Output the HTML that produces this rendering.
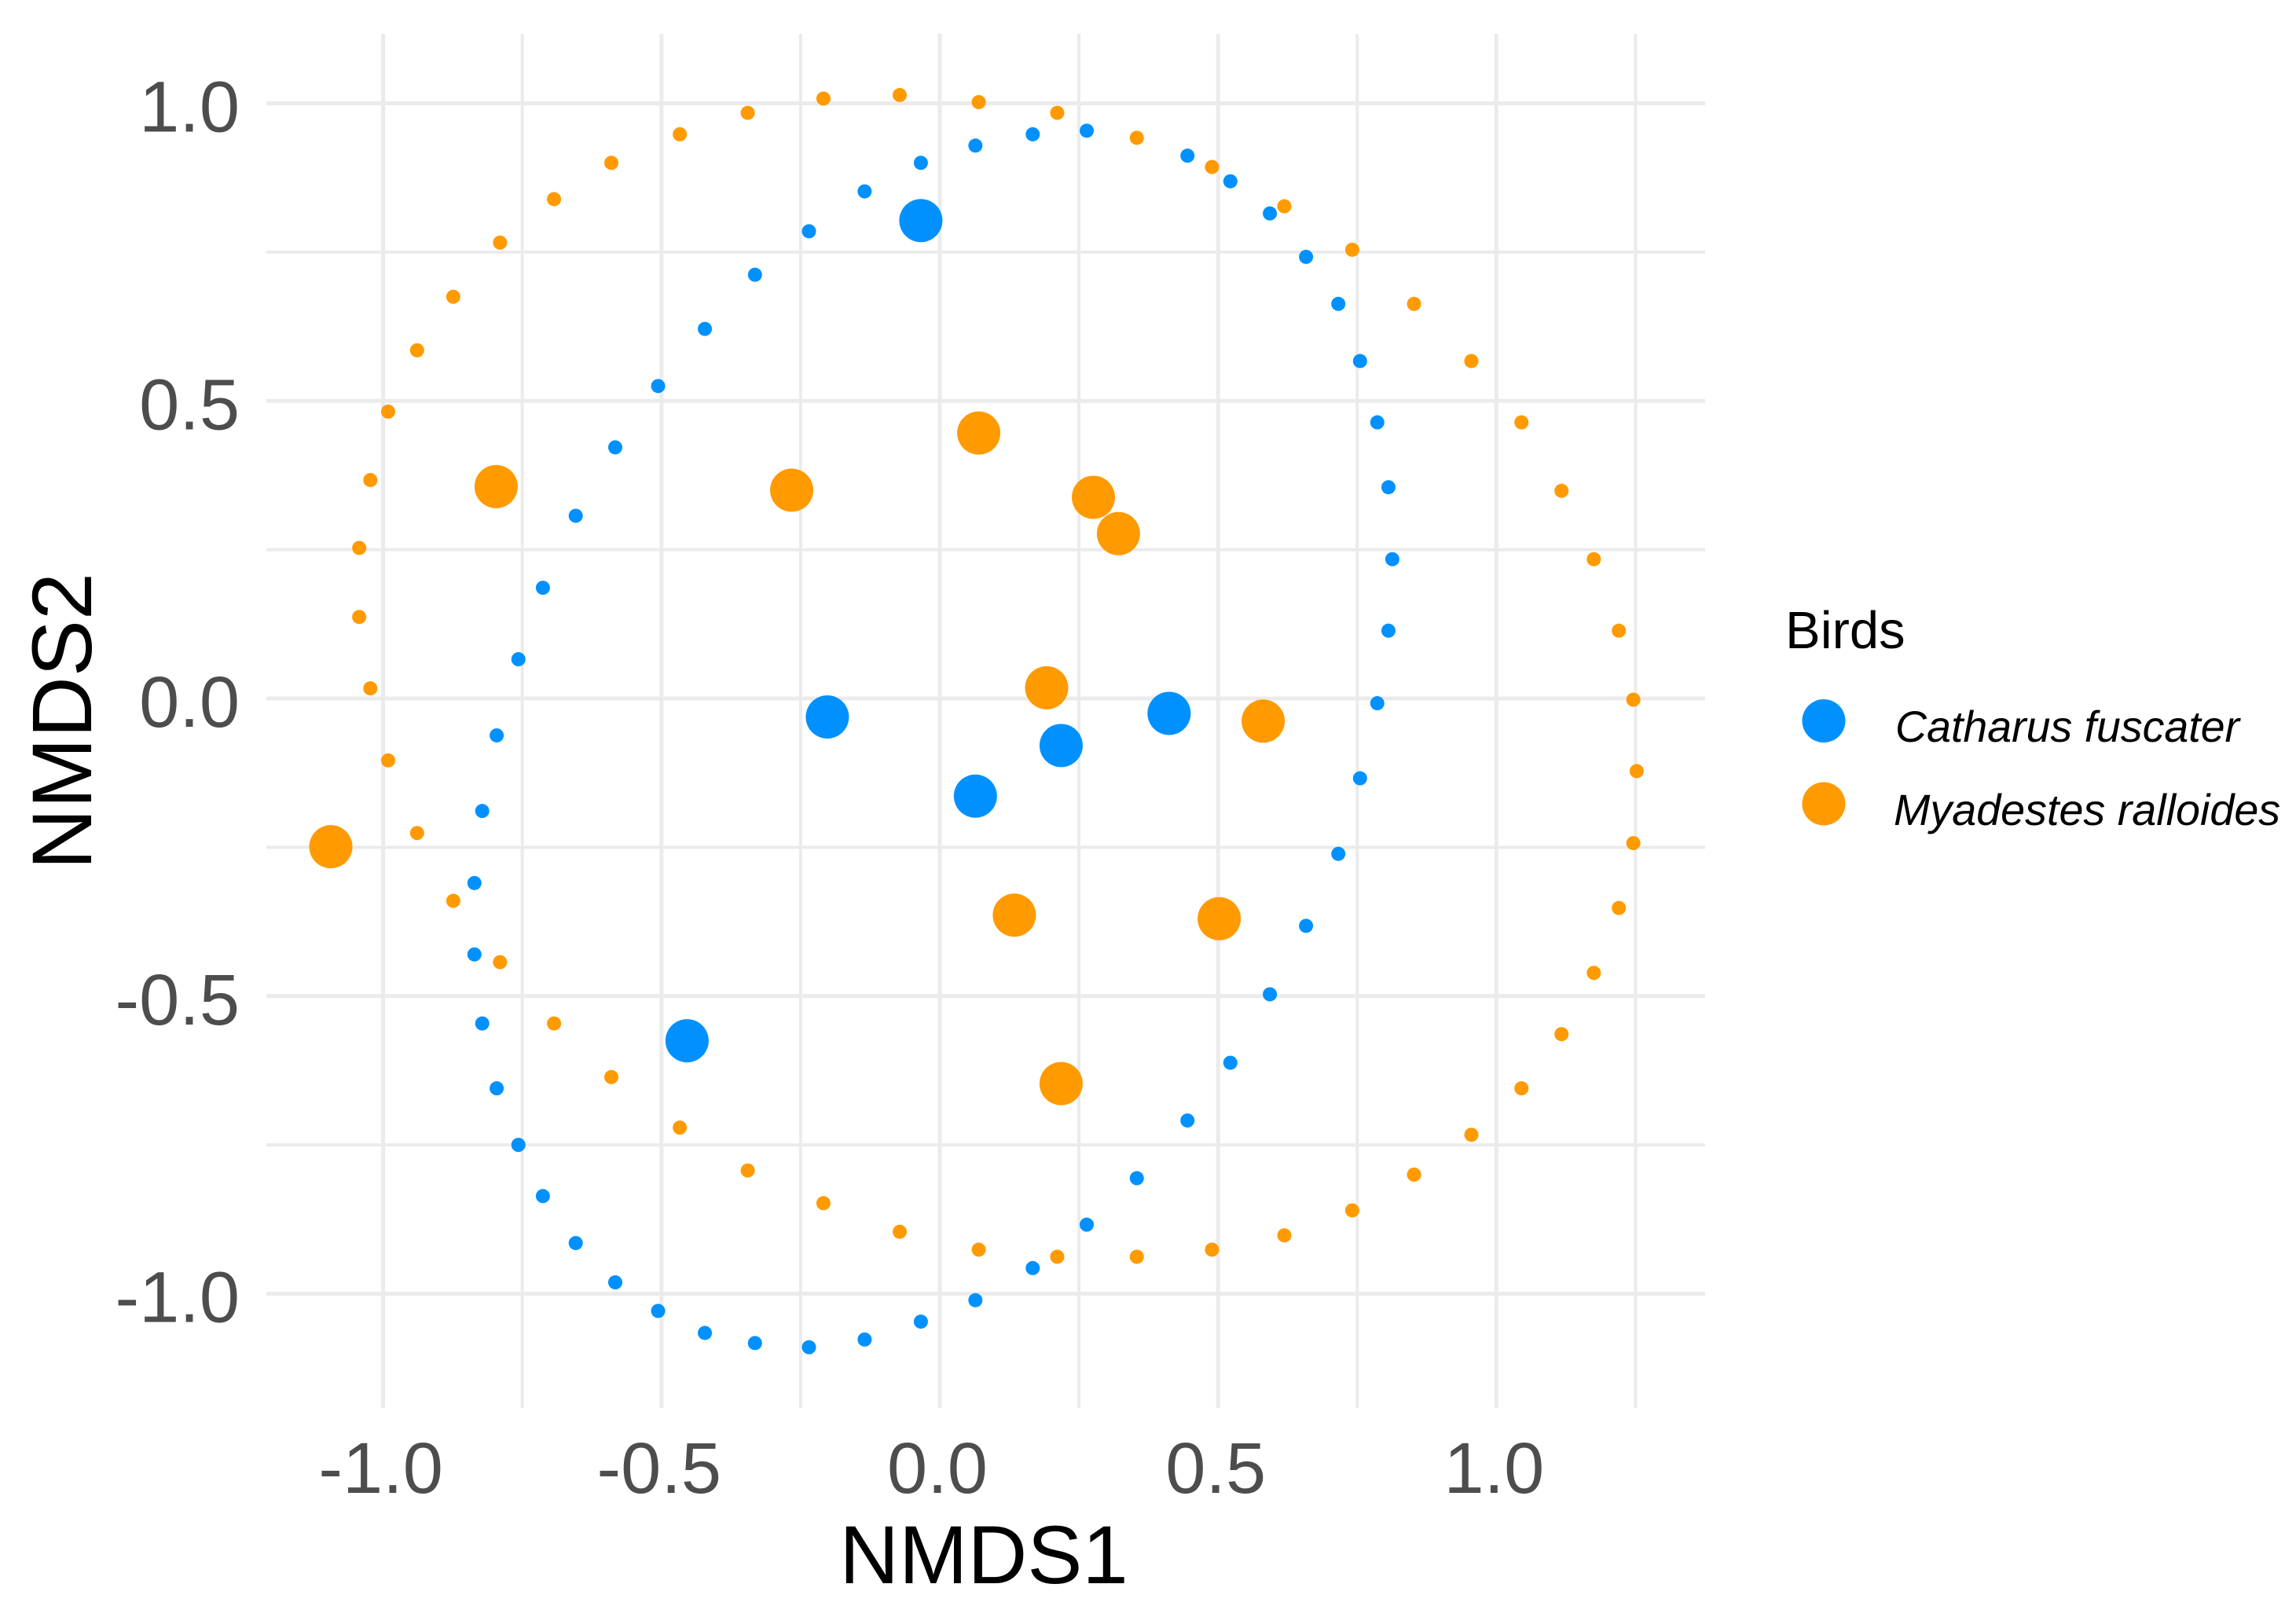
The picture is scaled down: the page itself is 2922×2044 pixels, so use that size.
<!DOCTYPE html>
<html lang="en">
<head>
<meta charset="utf-8">
<title>NMDS ordination of birds</title>
<style>
html,body{margin:0;padding:0;background:#fff;}
svg{display:block;font-family:"Liberation Sans",Arial,sans-serif;}
</style>
</head>
<body>
<svg id="chart" xmlns="http://www.w3.org/2000/svg" width="2922" height="2044" viewBox="0 0 2922 2044">
  <rect x="0" y="0" width="2922" height="2044" fill="#ffffff"/>
  <g id="grid"></g>
  <g id="marks"></g>
  <g id="xlabels"></g>
  <g id="ylabels"></g>
  <text x="1252" y="2015" font-size="105" text-anchor="middle" fill="#000">NMDS1</text>
  <text transform="translate(116,918) rotate(-90)" font-size="108" text-anchor="middle" fill="#000">NMDS2</text>
  <g>
    <text x="2272" y="825" font-size="67" fill="#000">Birds</text>
    <g>
      <circle cx="2321" cy="917.5" r="27.5" fill="#0091ff"/>
      <text x="2412" y="944" font-size="55.5" font-style="italic" fill="#000">Catharus fuscater</text>
    </g>
    <g>
      <circle cx="2321" cy="1023" r="27.5" fill="#ff9a00"/>
      <text x="2410" y="1050" font-size="55.7" font-style="italic" fill="#000">Myadestes ralloides</text>
    </g>
  </g>
</svg>
<script>
const xMajorTicks = [-1.0, -0.5, 0.0, 0.5, 1.0];
const xMinorTicks = [-0.75, -0.25, 0.25, 0.75, 1.25];
const yMajorTicks = [-1.0, -0.5, 0.0, 0.5, 1.0];
const yMinorTicks = [-0.75, -0.25, 0.25, 0.75];
const xTickLabels = ["-1.0", "-0.5", "0.0", "0.5", "1.0"];
const yTickLabels = ["-1.0", "-0.5", "0.0", "0.5", "1.0"];

const catharusSampleX = [-0.034, 0.412, 0.218, 0.064, -0.202, -0.454];
const catharusSampleY = [0.803, -0.025, -0.079, -0.164, -0.031, -0.575];
const myadestesSampleX = [-0.797, -0.266, 0.070, 0.276, 0.321, 0.192, 0.581, -1.094, 0.134, 0.502, 0.218];
const myadestesSampleY = [0.356, 0.350, 0.446, 0.338, 0.277, 0.018, -0.038, -0.249, -0.364, -0.370, -0.647];

const catharusEllipseX = [-0.235, -0.332, -0.422, -0.506, -0.583, -0.654, -0.713, -0.757, -0.796,
  -0.135, -0.034, 0.064, 0.167, 0.264, 0.445, 0.522, 0.593, 0.658, 0.716, 0.755, 0.786, 0.806, 0.813, 0.806, 0.786, 0.755,
  -0.822, -0.836, -0.836, -0.822, -0.796, -0.757, -0.713, -0.654, -0.583, -0.506, -0.422, -0.332, -0.235, -0.135,
  -0.034, 0.064, 0.167, 0.264, 0.354, 0.445, 0.522, 0.593, 0.658, 0.716];
const catharusEllipseY = [0.785, 0.712, 0.621, 0.525, 0.422, 0.307, 0.186, 0.066, -0.062,
  0.852, 0.900, 0.929, 0.948, 0.954, 0.912, 0.869, 0.815, 0.742, 0.663, 0.567, 0.464, 0.355, 0.234, 0.114, -0.008, -0.134,
  -0.189, -0.310, -0.430, -0.546, -0.655, -0.750, -0.836, -0.915, -0.981, -1.029, -1.066, -1.083, -1.090, -1.077,
  -1.047, -1.011, -0.957, -0.884, -0.806, -0.709, -0.612, -0.497, -0.382, -0.261];

const myadestesEllipseX = [-0.209, -0.345, -0.467, -0.590, -0.693, -0.790, -0.874, -0.939, -0.991, -1.023, -1.043, -1.043, -1.023, -0.991,
  -0.072, 0.070, 0.211, 0.354, 0.489, 0.619, 0.741, 0.852, 0.955, 1.045, 1.117, 1.175, 1.220, 1.246, 1.252,
  -0.939, -0.874, -0.790, -0.693, -0.590, -0.467, -0.345, -0.209,
  -0.072, 0.070, 0.211, 0.354, 0.489, 0.619, 0.741, 0.852, 0.955, 1.045, 1.117, 1.175, 1.220, 1.246];
const myadestesEllipseY = [1.008, 0.984, 0.948, 0.900, 0.839, 0.766, 0.675, 0.585, 0.482, 0.367, 0.253, 0.137, 0.017, -0.104,
  1.014, 1.002, 0.984, 0.942, 0.893, 0.827, 0.754, 0.663, 0.567, 0.464, 0.349, 0.234, 0.114, -0.002, -0.122,
  -0.226, -0.340, -0.443, -0.546, -0.636, -0.721, -0.793, -0.848,
  -0.896, -0.926, -0.938, -0.938, -0.926, -0.902, -0.860, -0.800, -0.733, -0.655, -0.564, -0.461, -0.352, -0.243];

const SVGNS = "http://www.w3.org/2000/svg";
const panelLeft = 339, panelRight = 2170, panelTop = 43, panelBottom = 1792;
function xScale(v) { return 1196 + 708.4 * v; }
function yScale(v) { return 889 - 757.5 * v; }

const gridGroup = document.getElementById("grid");
const marksGroup = document.getElementById("marks");
const xLabelGroup = document.getElementById("xlabels");
const yLabelGroup = document.getElementById("ylabels");

function makeLine(x1, y1, x2, y2, width) {
  const line = document.createElementNS(SVGNS, "line");
  line.setAttribute("x1", x1);
  line.setAttribute("y1", y1);
  line.setAttribute("x2", x2);
  line.setAttribute("y2", y2);
  line.setAttribute("stroke", "#ebebeb");
  line.setAttribute("stroke-width", width);
  gridGroup.appendChild(line);
  return line;
}

xMinorTicks.forEach(function (t) {
  const el = makeLine(xScale(t), panelTop, xScale(t), panelBottom, 4);
  
  
});
yMinorTicks.forEach(function (t) {
  const el = makeLine(panelLeft, yScale(t), panelRight, yScale(t), 4);
  
  
});
xMajorTicks.forEach(function (t) {
  const el = makeLine(xScale(t), panelTop, xScale(t), panelBottom, 5);
  
  
});
yMajorTicks.forEach(function (t) {
  const el = makeLine(panelLeft, yScale(t), panelRight, yScale(t), 5);
  
  
});

xMajorTicks.forEach(function (t, i) {
  const el = document.createElementNS(SVGNS, "text");
  
  
  el.setAttribute("x", xScale(t) - 3);
  el.setAttribute("y", 1900);
  el.setAttribute("font-size", 92);
  el.setAttribute("text-anchor", "middle");
  el.setAttribute("fill", "#4d4d4d");
  el.textContent = xTickLabels[i];
  xLabelGroup.appendChild(el);
});
yMajorTicks.forEach(function (t, i) {
  const el = document.createElementNS(SVGNS, "text");
  
  
  el.setAttribute("x", 305);
  el.setAttribute("y", yScale(t) + 36);
  el.setAttribute("font-size", 92);
  el.setAttribute("text-anchor", "end");
  el.setAttribute("fill", "#4d4d4d");
  el.textContent = yTickLabels[i];
  yLabelGroup.appendChild(el);
});

function makePoint(xv, yv, radius, color) {
  const c = document.createElementNS(SVGNS, "circle");
  c.setAttribute("cx", xScale(xv));
  c.setAttribute("cy", yScale(yv));
  c.setAttribute("r", radius);
  c.setAttribute("fill", color);
  marksGroup.appendChild(c);
  return c;
}

catharusEllipseX.forEach(function (xv, i) {
  const p = makePoint(xv, catharusEllipseY[i], 9, "#0091ff");
  
  
});
myadestesEllipseX.forEach(function (xv, i) {
  const p = makePoint(xv, myadestesEllipseY[i], 9, "#ff9a00");
  
  
});
catharusSampleX.forEach(function (xv, i) {
  const p = makePoint(xv, catharusSampleY[i], 27.5, "#0091ff");
  
  
});
myadestesSampleX.forEach(function (xv, i) {
  const p = makePoint(xv, myadestesSampleY[i], 27.5, "#ff9a00");
  
  
});
</script>
</body>
</html>
